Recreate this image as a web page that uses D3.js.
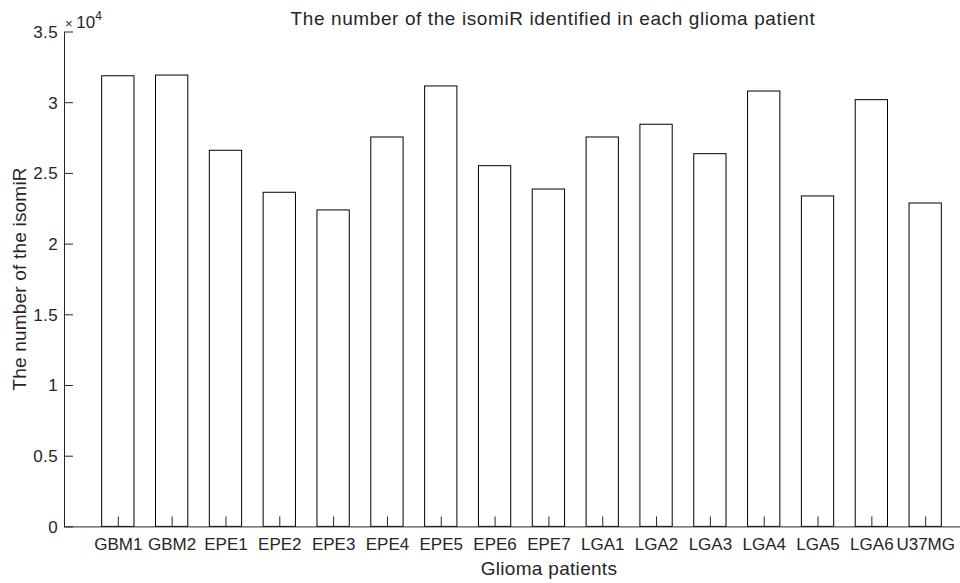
<!DOCTYPE html>
<html>
<head>
<meta charset="utf-8">
<script src="https://cdn.jsdelivr.net/npm/d3@7"></script>
<style>
  html, body { margin: 0; padding: 0; background: #fff; }
  svg { display: block; }
  text { font-family: "Liberation Sans", Arial, Helvetica, sans-serif; fill: #262626; }
</style>
</head>
<body>
<svg id="chart" width="960" height="583"></svg>
<script>
// Samples and isomiR counts per patient
const patients = ["GBM1", "GBM2", "EPE1", "EPE2", "EPE3", "EPE4", "EPE5", "EPE6",
                  "EPE7", "LGA1", "LGA2", "LGA3", "LGA4", "LGA5", "LGA6", "U37MG"];
const isomiRCounts = [31870, 31920, 26600, 23630, 22380, 27540, 31150, 25510,
                      23860, 27540, 28440, 26360, 30790, 23370, 30180, 22870];
const yTicks = [0, 5000, 10000, 15000, 20000, 25000, 30000, 35000];
const yTickLabels = ["0", "0.5", "1", "1.5", "2", "2.5", "3", "3.5"];

const titleText = "The number of the isomiR identified in each glioma patient";
const xLabelText = "Glioma patients";
const yLabelText = "The number of the isomiR";

const svg = d3.select("#chart");
const axisColor = "#262626";

// Bars sit at positions 1..16 on a continuous x axis
const x = d3.scaleLinear().domain([0, 17]).range([64, 979]);
const y = d3.scaleLinear().domain([0, 35000]).range([526.4, 31.5]);
const barWidth = 0.6;

// Bars
svg.append("g")
  .selectAll("rect")
  .data(isomiRCounts)
  .join("rect")
  .attr("x", (d, i) => x(i + 1 - barWidth / 2))
  .attr("width", (d, i) => x(i + 1 + barWidth / 2) - x(i + 1 - barWidth / 2))
  .attr("y", d => y(d))
  .attr("height", d => y(0) - y(d))
  .attr("fill", "#fff")
  .attr("stroke", "#000")
  .attr("stroke-width", 1);

// Y axis with inward ticks
const yAxis = svg.append("g")
  .attr("transform", `translate(${x(0)},0)`)
  .call(d3.axisLeft(y)
    .tickValues(yTicks)
    .tickFormat((d, i) => yTickLabels[i])
    .tickSizeInner(-9)
    .tickSizeOuter(0)
    .tickPadding(6));

// X axis with inward ticks
const xAxis = svg.append("g")
  .attr("transform", `translate(0,${y(0)})`)
  .call(d3.axisBottom(x)
    .tickValues(d3.range(1, patients.length + 1))
    .tickFormat((d) => patients[d - 1])
    .tickSizeInner(-10)
    .tickSizeOuter(0)
    .tickPadding(11.5));

[yAxis, xAxis].forEach(g => {
  g.select(".domain").attr("stroke", axisColor).attr("stroke-width", 1);
  g.selectAll(".tick line").attr("stroke", axisColor);
  g.selectAll(".tick text")
    .style("font-family", "'Liberation Sans', Arial, sans-serif")
    .style("font-size", "17px")
    .attr("fill", axisColor);
});
yAxis.selectAll(".tick text").attr("dy", "0.35em").style("letter-spacing", "0.4px");

// Exponent label above the y axis
const expo = svg.append("text")
  .attr("x", 65)
  .attr("y", 28);
expo.append("tspan").style("font-size", "13px").text("\u00d7 ");
expo.append("tspan").style("font-size", "17px").text("10");
expo.append("tspan").attr("dy", -8).style("font-size", "12px").text("4");

// Title
svg.append("text")
  .attr("x", 553)
  .attr("y", 25)
  .attr("text-anchor", "middle")
  .style("font-size", "19px")
  .style("letter-spacing", "0.6px")
  .text(titleText);

// X label
svg.append("text")
  .attr("x", 549)
  .attr("y", 575)
  .attr("text-anchor", "middle")
  .style("font-size", "19px")
  .style("letter-spacing", "0.3px")
  .text(xLabelText);

// Y label
svg.append("text")
  .attr("transform", `translate(26,${(y(0) + y(35000)) / 2}) rotate(-90)`)
  .attr("text-anchor", "middle")
  .style("font-size", "19px")
  .style("letter-spacing", "0.2px")
  .text(yLabelText);
</script>
</body>
</html>
